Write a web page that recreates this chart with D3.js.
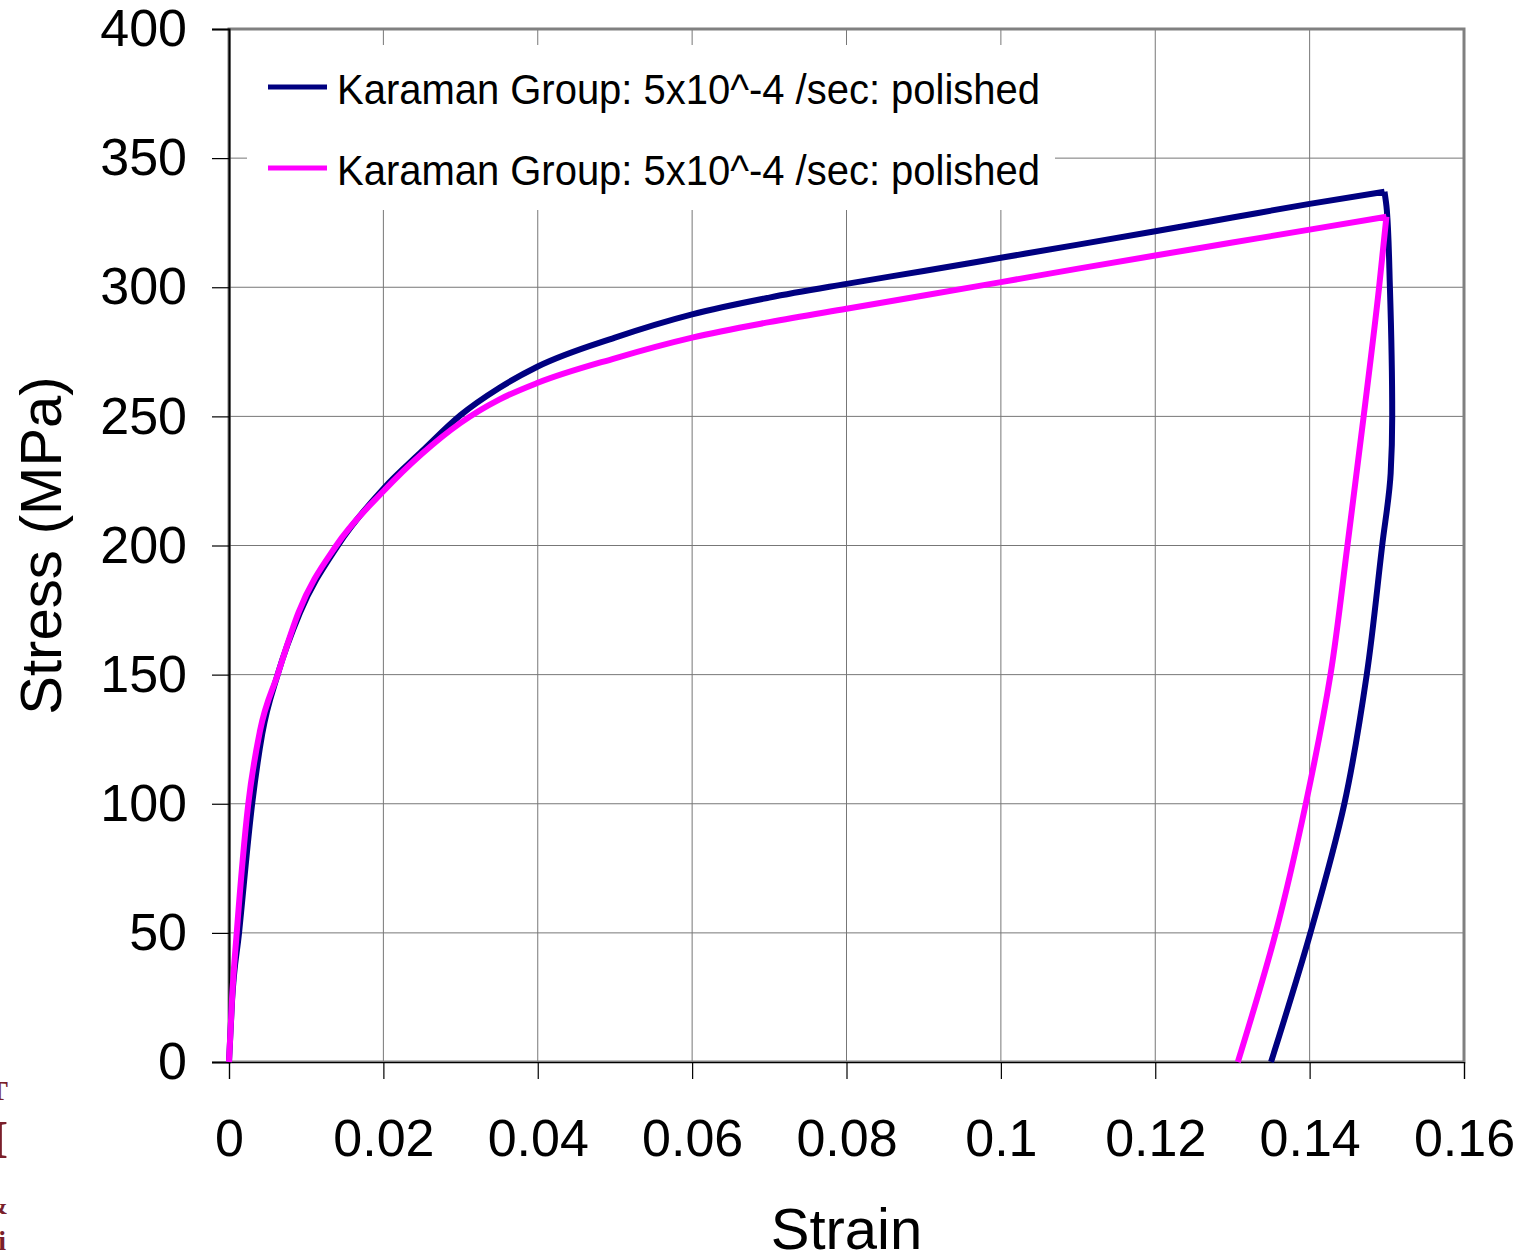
<!DOCTYPE html>
<html>
<head>
<meta charset="utf-8">
<script src="https://cdnjs.cloudflare.com/ajax/libs/d3/7.8.5/d3.min.js"></script>
<style>
  body { margin: 0; background: #fff; }
  svg { display: block; font-family: "Liberation Sans", Arial, sans-serif; }
</style>
</head>
<body>
<svg></svg>
<script>
/*
*  DATA
*/

let xTicks = [0, 0.02, 0.04, 0.06, 0.08, 0.1, 0.12, 0.14, 0.16]
let yTicks = [0, 50, 100, 150, 200, 250, 300, 350, 400]

let seriesNames = ['Karaman Group: 5x10^-4 /sec: polished', 'Karaman Group: 5x10^-4 /sec: polished']
let seriesColors = ['#000080', '#ff00ff']

// blue: loading up to the peak, then unloading
let blueLoadStrain = [0, 0.0004, 0.0013, 0.0030, 0.0043, 0.0063, 0.0092, 0.0141, 0.02, 0.025, 0.03, 0.035, 0.04,
  0.05, 0.06, 0.07, 0.08, 0.09, 0.1, 0.11, 0.12, 0.13, 0.14, 0.1497]
let blueLoadStress = [0, 24, 50, 100, 127, 150, 174, 200, 222, 236.5, 250.5, 261, 269.3,
  280.5, 289.5, 296, 301.3, 306.3, 311.4, 316.5, 321.7, 327, 332.3, 337]
let blueUnloadStrain = [0.1497, 0.1500, 0.1504, 0.1507, 0.1505, 0.1494, 0.1474, 0.1445, 0.1401, 0.1350]
let blueUnloadStress = [337, 330, 300, 250, 228, 200, 150, 100, 50, 0]

// pink: loading up to the peak, then unloading
let pinkLoadStrain = [0, 0.0004, 0.001, 0.0025, 0.004, 0.0063, 0.009, 0.0139, 0.02, 0.025, 0.03, 0.035, 0.04,
  0.05, 0.06, 0.07, 0.08, 0.09, 0.1, 0.11, 0.12, 0.13, 0.14, 0.14995]
let pinkLoadStress = [0, 25, 50, 100, 128, 150, 174, 200, 221, 235.5, 247.5, 256.5, 263,
  272.5, 280.5, 286.5, 291.7, 296.8, 302, 307.2, 312.3, 317.3, 322.3, 327.3]
let pinkUnloadStrain = [0.14995, 0.1490, 0.1470, 0.1449, 0.1427, 0.1395, 0.1356, 0.1307]
let pinkUnloadStress = [327.3, 300, 250, 200, 150, 100, 50, 0]

/*
*  RUN
*/

let width = 1527,
    height = 1256,
    margin = {left: 229, right: 63, top: 29, bottom: 194}

let svg = d3.select('svg')
  .attr('width', width)
  .attr('height', height)

let x = d3.scaleLinear().domain([0, 0.16]).range([margin.left, width - margin.right])
let y = d3.scaleLinear().domain([0, 400]).range([height - margin.bottom, margin.top])

drawChart()

/*
*  HELPERS
*/

function zip(a, b){
  return a.map((v, i) => [v, b[i]])
}

function curvePath(loadX, loadY, unloadX, unloadY){
  // loading is monotone in strain, unloading is monotone in stress
  let up = d3.line().x(d => x(d[0])).y(d => y(d[1])).curve(d3.curveMonotoneX)
  let down = d3.line().x(d => x(d[0])).y(d => y(d[1])).curve(d3.curveMonotoneY)
  return up(zip(loadX, loadY)) + down(zip(unloadX, unloadY).reverse())
}

function drawChart(){
  let x0 = x.range()[0], x1 = x.range()[1]
  let y0 = y.range()[0], y1 = y.range()[1]

  // GRID
  let grid = svg.append('g').attr('class', 'grid')
  grid.selectAll('.vgrid')
    .data(xTicks.slice(1, -1))
    .enter().append('line')
    .attr('x1', d => x(d)).attr('x2', d => x(d))
    .attr('y1', y1).attr('y2', y0)
    .attr('stroke', '#777').attr('stroke-width', 1)
  grid.selectAll('.hgrid')
    .data(yTicks.slice(1, -1))
    .enter().append('line')
    .attr('x1', x0).attr('x2', x1)
    .attr('y1', d => y(d)).attr('y2', d => y(d))
    .attr('stroke', '#777').attr('stroke-width', 1)

  // plot border
  svg.append('rect')
    .attr('x', x0).attr('y', y1)
    .attr('width', x1 - x0).attr('height', y0 - y1)
    .attr('fill', 'none').attr('stroke', '#808080').attr('stroke-width', 3)

  // LEGEND BOX (white, hides the grid)
  let leg = svg.append('g').attr('class', 'legend')
  leg.append('rect')
    .attr('x', 247).attr('y', 45).attr('width', 808).attr('height', 165)
    .attr('fill', '#fff')
  seriesNames.forEach((name, i) => {
    let ly = 87 + i * 81
    leg.append('line')
      .attr('x1', 268).attr('x2', 327)
      .attr('y1', ly).attr('y2', ly)
      .attr('stroke', seriesColors[i]).attr('stroke-width', 5)
    leg.append('text')
      .attr('x', 337).attr('y', ly + 17)
      .attr('font-size', 43)
      .attr('textLength', 703).attr('lengthAdjust', 'spacingAndGlyphs')
      .text(name)
  })

  // AXES
  let xAxis = d3.axisBottom(x).tickValues(xTicks).tickSize(17).tickPadding(40)
    .tickFormat(d => d === 0 ? '0' : d3.format('~g')(d))
  let gx = svg.append('g')
    .attr('transform', `translate(0,${y0})`)
    .call(xAxis)
  gx.select('.domain').attr('stroke', '#000').attr('stroke-width', 1.2)
  gx.selectAll('.tick line').attr('stroke', '#000').attr('stroke-width', 1.2)
  gx.selectAll('text').attr('font-size', 52).attr('fill', '#000')
    .attr('font-family', '"Liberation Sans", Arial, sans-serif')

  let yAxis = d3.axisLeft(y).tickValues(yTicks).tickSize(17).tickPadding(25)
  let gy = svg.append('g')
    .attr('transform', `translate(${x0},0)`)
    .call(yAxis)
  gy.select('.domain').attr('stroke', '#000').attr('stroke-width', 2)
  gy.selectAll('.tick line').attr('stroke', '#000').attr('stroke-width', 1.2)
  gy.selectAll('text').attr('font-size', 52).attr('fill', '#000')
    .attr('font-family', '"Liberation Sans", Arial, sans-serif')

  // AXIS TITLES
  svg.append('text')
    .attr('x', (x0 + x1) / 2).attr('y', 1249)
    .attr('text-anchor', 'middle').attr('font-size', 58)
    .text('Strain')
  svg.append('text')
    .attr('transform', `translate(61,${(y0 + y1) / 2}) rotate(-90)`)
    .attr('text-anchor', 'middle').attr('font-size', 58)
    .text('Stress (MPa)')

  // CURVES (pink on top)
  svg.append('path')
    .attr('d', curvePath(blueLoadStrain, blueLoadStress, blueUnloadStrain, blueUnloadStress))
    .attr('fill', 'none')
    .attr('stroke', seriesColors[0]).attr('stroke-width', 6)
    .attr('stroke-linejoin', 'round')
  svg.append('path')
    .attr('d', curvePath(pinkLoadStrain, pinkLoadStress, pinkUnloadStrain, pinkUnloadStress))
    .attr('fill', 'none')
    .attr('stroke', seriesColors[1]).attr('stroke-width', 6)
    .attr('stroke-linejoin', 'round')

  // cropped logo at the left edge
  let logo = svg.append('g').attr('fill', '#7a1f2b')
    .attr('font-family', '"Liberation Serif", serif').attr('font-weight', 'bold')
    .attr('text-anchor', 'end')
  logo.append('text').attr('x', 8).attr('y', 1100).attr('font-size', 28).text('T')
  logo.append('text').attr('x', 8).attr('y', 1158).attr('font-size', 54).text('M')
  logo.append('text').attr('x', 8).attr('y', 1214).attr('font-size', 26).text('&')
  logo.append('text').attr('x', 6).attr('y', 1250).attr('font-size', 28).text('i')
}
</script>
</body>
</html>
